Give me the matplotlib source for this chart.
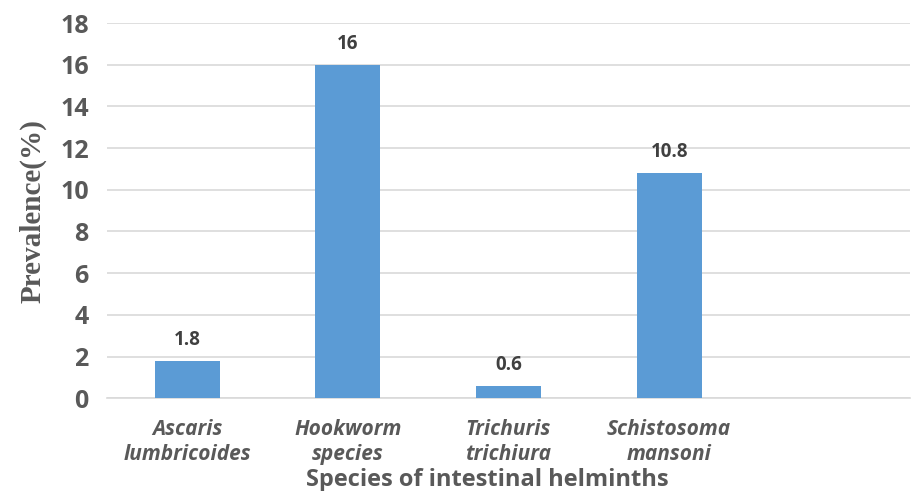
import matplotlib.pyplot as plt
import numpy as np

# данные
species = ['Ascaris\nlumbricoides', 'Hookworm\nspecies', 'Trichuris\ntrichiura', 'Schistosoma\nmansoni', '']
prevalence = [1.8, 16, 0.6, 10.8]
value_labels = ['1.8', '16', '0.6', '10.8']
y_ticks = [0, 2, 4, 6, 8, 10, 12, 14, 16, 18]

fig = plt.figure(figsize=(9.12, 4.91), dpi=100)
ax = fig.add_axes([0.117, 0.189, 0.881, 0.764])

x = np.arange(len(prevalence))
bars = ax.bar(x, prevalence, width=0.405, color='#5B9BD5', zorder=3)

# подписи значений над столбцами
for b, lab in zip(bars, value_labels):
    ax.annotate(lab, (b.get_x() + b.get_width() / 2, b.get_height()),
                xytext=(0, 8), textcoords='offset points', ha='center', va='bottom',
                fontsize=13.5, fontweight='bold', color='#404040', family='Open Sans')

ax.set_xlim(-0.5, len(species) - 0.5)
ax.set_ylim(0, 18)
ax.set_yticks(y_ticks)
ax.set_xticks(np.arange(len(species)))
ax.set_xticklabels(species, fontsize=15, fontstyle='italic', fontweight='bold',
                   color='#595959', family='Open Sans', linespacing=1.22)
for t in ax.get_yticklabels():
    t.set_fontsize(18)
    t.set_fontweight('bold')
    t.set_color('#595959')
    t.set_family('Open Sans')

ax.tick_params(axis='both', length=0)
ax.tick_params(axis='x', pad=15)
ax.tick_params(axis='y', pad=13)

# сетка
ax.grid(axis='y', color='#D9D9D9', linewidth=1.2, zorder=0)
for s in ['top', 'right', 'left']:
    ax.spines[s].set_visible(False)
ax.spines['bottom'].set_color('#D9D9D9')
ax.spines['bottom'].set_linewidth(1.2)

ax.set_ylabel('Prevalence(%)', fontsize=21, fontweight='bold', color='#595959',
              family='Liberation Serif', labelpad=10)
fig.text(0.534, 0.022, 'Species of intestinal helminths', ha='center', va='center',
         fontsize=17, fontweight='bold', color='#595959', family='Open Sans')

fig.savefig('out.png', dpi=100)
